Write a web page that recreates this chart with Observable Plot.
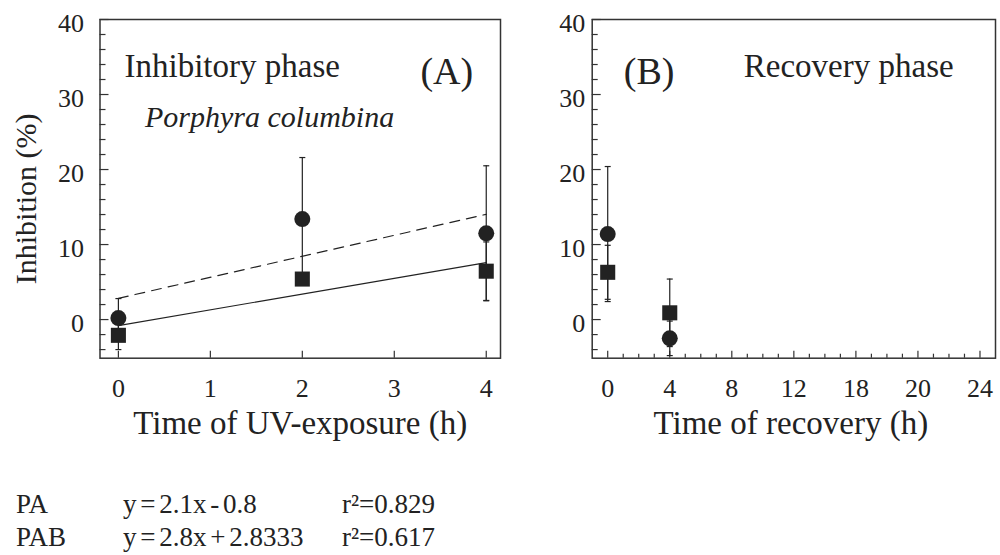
<!DOCTYPE html>
<html>
<head>
<meta charset="utf-8">
<script src="https://cdn.jsdelivr.net/npm/d3@7"></script>
<script src="https://cdn.jsdelivr.net/npm/@observablehq/plot@0.6"></script>
<style>
  body { margin: 0; background: #fff; }
  #wrap { position: relative; width: 1000px; height: 555px; font-family: "Liberation Serif", "Times New Roman", serif; color: #222; overflow: hidden; }
  .panel { position: absolute; top: 0; }
  .eq { position: absolute; font-size: 27px; line-height: 27px; white-space: pre; word-spacing: -3px; }
</style>
</head>
<body>
<div id="wrap"></div>
<script>
// ---- data ----
const timeA = [0, 2, 4];                 // Time of UV-exposure (h)
const paA = [-2.1, 5.4, 6.45];           // PA (squares), inhibition %
const paAErr = [1.9, 0.8, 3.9];
const pabA = [0.2, 13.4, 11.5];          // PAB (circles), inhibition %
const pabAErr = [2.6, 8.2, 9.0];

const timeB = [0, 4];                    // Time of recovery (h)
const paB = [6.3, 0.9];
const paBErr = [3.6, 4.5];
const pabB = [11.4, -2.5];
const pabBErr = [9.0, 2.3];

// regression lines (end points) for panel A
const fitX = [0, 4];
const fitPA = [-0.8, 7.6];               // y = 2.1x - 0.8
const fitPAB = [2.8333, 14.0333];        // y = 2.8x + 2.8333

// ticks
const yTicks = [0, 10, 20, 30, 40];
const yMinor = [-4, -2, 2, 4, 6, 8, 12, 14, 16, 18, 22, 24, 26, 28, 32, 34, 36, 38];
const xTicksA = [0, 1, 2, 3, 4];
const xTicksB = [0, 4, 8, 12, 16, 20, 24];
const xLabelsB = ["0", "4", "8", "12", "18", "20", "24"];
const xMinorB = [1, 2, 3, 5, 6, 7, 9, 10, 11, 13, 14, 15, 17, 18, 19, 21, 22, 23];

// equation legend
const eqNames = ["PA", "PAB"];
const eqFormulas = ["y = 2.1x - 0.8", "y = 2.8x + 2.8333"];
const eqR2 = ["r\u00B2=0.829", "r\u00B2=0.617"];

// ---- drawing ----
const H = 450;
const yDomain = [-5.15, 40];
const ink = "#222";
const axisInk = "#333";
const capSymbol = { draw(ctx) { ctx.moveTo(-3, 0); ctx.lineTo(3, 0); } };
const style = { fontFamily: '"Liberation Serif", "Times New Roman", serif', background: "white", color: ink, overflow: "visible" };

function makePanel(o) {
  const pts = (ys, es) => o.t.map((t, i) => ({ x: t, y: ys[i], e: es[i] }));
  const pa = pts(o.pa, o.paErr);
  const pab = pts(o.pab, o.pabErr);
  const bars = [...pa, ...pab];
  const caps = bars.flatMap(d => [{ x: d.x, y: d.y - d.e }, { x: d.x, y: d.y + d.e }]);

  const marks = [
    Plot.axisY(yMinor, { anchor: "left", tickSize: 6, dx: 6, fill: "none", stroke: axisInk, strokeWidth: 1.2, label: null }),
    Plot.axisY(yTicks, { anchor: "left", tickSize: 9, dx: 9, fill: "none", stroke: axisInk, strokeWidth: 1.2, label: null }),
    Plot.axisY(yTicks, { anchor: "left", tickSize: 0, tickPadding: o.yPad, dy: 4, fontSize: 26, fill: ink, label: null }),
    Plot.axisX(o.xTicks, { anchor: "bottom", tickSize: 7, dy: -7, fill: "none", stroke: axisInk, strokeWidth: 1.2, label: null }),
    Plot.axisX(o.xTicks, { anchor: "bottom", tickSize: 0, tickPadding: 20, fontSize: 26, fill: ink, label: null, tickFormat: o.xFormat }),
    Plot.text([o.xTitle], { text: d => d, frameAnchor: "bottom", textAnchor: "middle", dx: o.xTitleDx, dy: 75.7, fontSize: 33, fill: ink })
  ];
  if (o.xMinor) {
    marks.push(Plot.axisX(o.xMinor, { anchor: "bottom", tickSize: 4, dy: -4, fill: "none", stroke: axisInk, strokeWidth: 1.2, label: null }));
  }
  if (o.yTitle) {
    marks.push(Plot.text([o.yTitle], { text: d => d, frameAnchor: "left", textAnchor: "middle", dx: -74, dy: 10, rotate: -90, fontSize: 30, fill: ink }));
  }
  if (o.fit) {
    const pl = fitX.map((x, i) => ({ x, y: fitPA[i] }));
    const pb = fitX.map((x, i) => ({ x, y: fitPAB[i] }));
    marks.push(
      Plot.line(pl, { x: "x", y: "y", stroke: ink, strokeWidth: 1.2 }),
      Plot.line(pb, { x: "x", y: "y", stroke: ink, strokeWidth: 1.2, strokeDasharray: "10,7" })
    );
  }
  marks.push(
    Plot.ruleX(bars, { x: "x", y1: d => d.y - d.e, y2: d => d.y + d.e, stroke: ink, strokeWidth: 1.2 }),
    Plot.dot(caps, { x: "x", y: "y", symbol: capSymbol, r: 3, stroke: ink, strokeWidth: 1.2, fill: "none" }),
    Plot.dot(pa, { x: "x", y: "y", symbol: "square", r: 8.5, fill: ink, stroke: "none" }),
    Plot.dot(pab, { x: "x", y: "y", symbol: "circle", r: 8, fill: ink, stroke: "none" })
  );
  for (const a of o.notes) {
    marks.push(Plot.text([a.text], {
      text: d => d, frameAnchor: a.anchor, textAnchor: a.textAnchor, dx: a.dx, dy: a.dy,
      fontSize: a.size, fontStyle: a.italic ? "italic" : "normal", fill: ink
    }));
  }
  marks.push(Plot.frame({ stroke: axisInk, strokeWidth: 1.5 }));

  return Plot.plot({
    width: o.w, height: H,
    marginLeft: o.ml, marginRight: o.mr, marginTop: 19, marginBottom: H - 357.7,
    x: { domain: o.xDomain },
    y: { domain: yDomain },
    style,
    marks
  });
}

const wrap = document.getElementById("wrap");

const plotA = makePanel({
  t: timeA, pa: paA, paErr: paAErr, pab: pabA, pabErr: pabAErr,
  w: 510, ml: 99.5, mr: 10, xDomain: [-0.2, 4.155],
  xTicks: xTicksA, xFormat: d => String(d), yPad: 16,
  xTitle: "Time of UV-exposure (h)", xTitleDx: 0, yTitle: "Inhibition (%)", fit: true,
  notes: [
    { text: "Inhibitory phase", anchor: "top-left", textAnchor: "start", dx: 24.5, dy: 33.7, size: 33 },
    { text: "(A)", anchor: "top-right", textAnchor: "end", dx: -27.3, dy: 37.8, size: 38 },
    { text: "Porphyra columbina", anchor: "top-left", textAnchor: "start", dx: 45, dy: 86.4, size: 30, italic: true }
  ]
});
const divA = document.createElement("div");
divA.className = "panel"; divA.style.left = "0px";
divA.appendChild(plotA);
wrap.appendChild(divA);

const plotB = makePanel({
  t: timeB, pa: paB, paErr: paBErr, pab: pabB, pabErr: pabBErr,
  w: 490, ml: 81.7, mr: 5, xDomain: [-1, 25],
  xTicks: xTicksB, xMinor: xMinorB, xFormat: d => xLabelsB[xTicksB.indexOf(d)], yPad: 7,
  xTitle: "Time of recovery (h)", xTitleDx: -3, yTitle: null, fit: false,
  notes: [
    { text: "(B)", anchor: "top-left", textAnchor: "start", dx: 31.6, dy: 37.8, size: 38 },
    { text: "Recovery phase", anchor: "top-left", textAnchor: "start", dx: 151.6, dy: 33.7, size: 33 }
  ]
});
const divB = document.createElement("div");
divB.className = "panel"; divB.style.left = "510px";
divB.appendChild(plotB);
wrap.appendChild(divB);

// equation legend below the panels
const rowTops = [490.5, 523.5];
const colLefts = [16, 123, 342];
eqNames.forEach((name, i) => {
  [name, eqFormulas[i], eqR2[i]].forEach((txt, j) => {
    const d = document.createElement("div");
    d.className = "eq";
    d.style.left = colLefts[j] + "px";
    d.style.top = rowTops[i] + "px";
    d.textContent = txt;
    wrap.appendChild(d);
  });
});
</script>
</body>
</html>
